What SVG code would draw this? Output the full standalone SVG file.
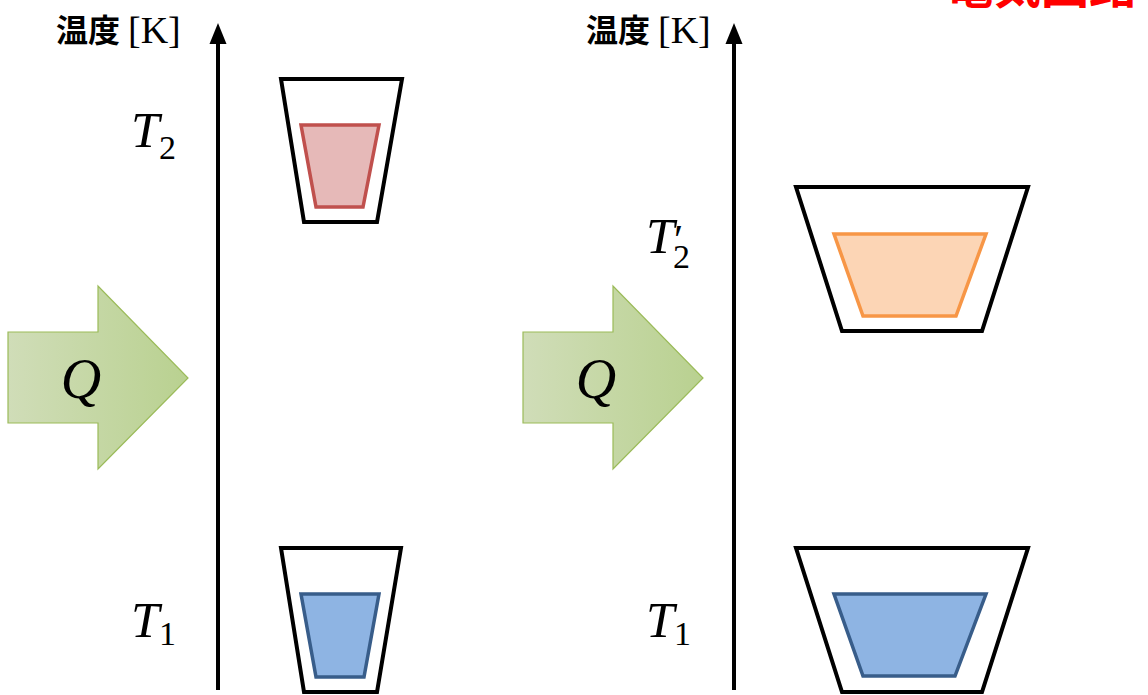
<svg xmlns="http://www.w3.org/2000/svg" width="1148" height="695" viewBox="0 0 1148 695">
<style>
.axis{stroke:#000;stroke-width:4;fill:none}
.cup{fill:#fff;stroke:#000;stroke-width:4;stroke-linejoin:miter}
.hot{fill:#e6b9b8;stroke:#c0504d;stroke-width:3.5}
.warm{fill:#fcd5b5;stroke:#f79646;stroke-width:3.5}
.cold{fill:#8eb4e3;stroke:#385d8a;stroke-width:3.5}
.heat{fill:url(#g);stroke:#9bbb59;stroke-width:1.2}
.math{font-family:"Liberation Serif",serif;font-style:italic;fill:#000}
.sub{font-style:normal}
.lab{font-family:"Noto Sans CJK JP",sans-serif;font-weight:bold;font-size:32px;fill:#000}
.unit{font-family:"Liberation Serif",serif;font-size:38px;fill:#000}
</style>
<defs>
<linearGradient id="g" x1="0" y1="0" x2="1" y2="0">
<stop offset="0" stop-color="#d0ddb8"/>
<stop offset="1" stop-color="#b9d190"/>
</linearGradient>
</defs>
<text x="945" y="3" font-family="'Noto Sans CJK JP',sans-serif" font-weight="bold" font-size="48" fill="#ff0000">電気回路</text>
<g id="connectors">
<line class="axis" x1="218" y1="690" x2="218" y2="40"/>
<polygon points="209.5,44 226.5,44 218,23" fill="#000"/>
<line class="axis" x1="734" y1="690" x2="734" y2="40"/>
<polygon points="725.5,44 742.5,44 734,23" fill="#000"/>
</g>
<g id="axis-label-left"><text class="lab" x="56" y="42">温度</text><text class="unit" x="128" y="43">[K]</text></g>
<g id="axis-label-right"><text class="lab" x="586" y="42">温度</text><text class="unit" x="658" y="43">[K]</text></g>
<g id="heat-left">
<polygon class="heat" points="8,332 98,332 98,286 188,378 98,469 98,423 8,423"/>
<text class="math" x="81" y="398" font-size="56" text-anchor="middle">Q</text>
</g>
<g id="heat-right">
<polygon class="heat" points="523,332 613,332 613,286 703,378 613,469 613,423 523,423"/>
<text class="math" x="596" y="398" font-size="56" text-anchor="middle">Q</text>
</g>
<g id="label-T2"><text class="math" x="131" y="147" font-size="51">T<tspan class="sub" x="159" y="159" font-size="34">2</tspan></text></g>
<g id="label-T1-left"><text class="math" x="131" y="637" font-size="51">T<tspan class="sub" x="159" y="645" font-size="34">1</tspan></text></g>
<g id="label-T2p"><text class="math" x="646" y="253" font-size="51">T<tspan class="sub" x="674" y="254" font-size="42">′</tspan><tspan class="sub" x="673" y="268" font-size="34">2</tspan></text></g>
<g id="label-T1-right"><text class="math" x="646" y="637" font-size="51">T<tspan class="sub" x="674" y="645" font-size="34">1</tspan></text></g>
<g id="cup-hot">
<polygon class="cup" points="281,79 402,79 377,222 304,222"/>
<polygon class="hot" points="301,125 379,125 363,207 316,207"/>
</g>
<g id="cup-cold-left">
<polygon class="cup" points="281,548 401,548 377,692 304,692"/>
<polygon class="cold" points="301,594 379,594 364,677 316,677"/>
</g>
<g id="cup-warm">
<polygon class="cup" points="796,187 1028,187 982,331 842,331"/>
<polygon class="warm" points="834,234 986,234 956,316 863,316"/>
</g>
<g id="cup-cold-right">
<polygon class="cup" points="796,548 1028,548 982,692 842,692"/>
<polygon class="cold" points="834,594 986,594 955,676 863,676"/>
</g>
</svg>
